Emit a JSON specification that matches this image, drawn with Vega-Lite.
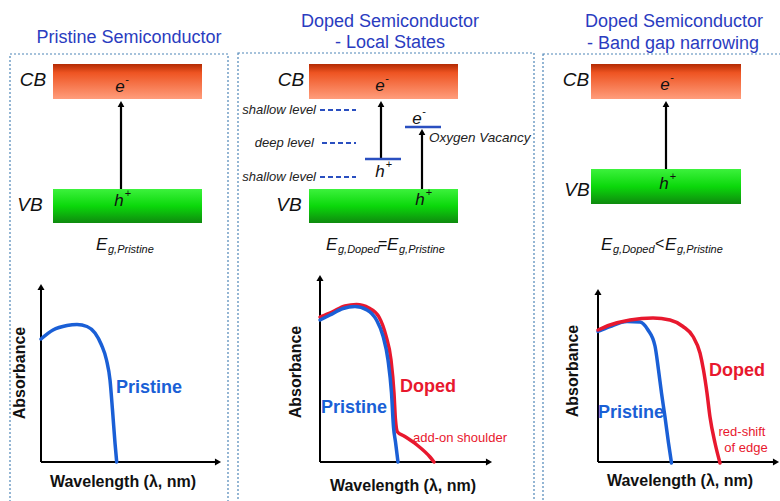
{
 "$schema": "https://vega.github.io/schema/vega-lite/v6.json",
 "width": 780, "height": 501, "autosize": "none", "padding": 0,
 "background": "white",
 "config": {"view": {"stroke": null}, "text": {"font": "Liberation Sans"}},
 "datasets": {
  "borders": [{"x":10,"y":54,"x2":228,"y2":520},{"x":238,"y":53,"x2":534,"y2":520},{"x":543,"y":54,"x2":820,"y2":520}],
  "cb": [{"x":53,"y":64,"x2":202,"y2":99},{"x":309,"y":64,"x2":458,"y2":99},{"x":591,"y":64,"x2":741,"y2":99}],
  "vb": [{"x":53,"y":189,"x2":202,"y2":223},{"x":309,"y":189,"x2":458,"y2":223},{"x":591,"y":169,"x2":741,"y2":204}],
  "arrows": [{"x":121,"y":189,"y2":104},{"x":381,"y":159,"y2":104},{"x":422,"y":189,"y2":132},{"x":666,"y":169,"y2":104}],
  "heads": [{"x":121,"y":104},{"x":381,"y":104},{"x":422,"y":132},{"x":666,"y":104}],
  "levels": [{"x":365,"x2":401,"y":159},{"x":405,"x2":441,"y":127}],
  "dashes": [{"x":320,"x2":356,"y":110},{"x":322,"x2":356,"y":143},{"x":320,"x2":356,"y":177}],
  "axes": [
   {"x":41,"x2":41,"y":462,"y2":287},{"x":41,"x2":218,"y":462,"y2":462},
   {"x":320,"x2":320,"y":462,"y2":278},{"x":320,"x2":489,"y":462,"y2":462},
   {"x":598,"x2":598,"y":462,"y2":292},{"x":598,"x2":776,"y":462,"y2":462}],
  "upHeads": [{"x":41,"y":287},{"x":320,"y":278},{"x":598,"y":292}],
  "rightHeads": [{"x":218,"y":462},{"x":489,"y":462},{"x":776,"y":462}],
  "curves": [
   {"g":"p1","s":"Pristine","i":0,"x":41,"y":339},{"g":"p1","s":"Pristine","i":1,"x":53,"y":330},{"g":"p1","s":"Pristine","i":2,"x":67,"y":325.5},{"g":"p1","s":"Pristine","i":3,"x":77,"y":324.5},{"g":"p1","s":"Pristine","i":4,"x":87,"y":326.5},{"g":"p1","s":"Pristine","i":5,"x":95,"y":333},{"g":"p1","s":"Pristine","i":6,"x":101.5,"y":345},{"g":"p1","s":"Pristine","i":7,"x":106.5,"y":360},{"g":"p1","s":"Pristine","i":8,"x":110,"y":380},{"g":"p1","s":"Pristine","i":9,"x":112.5,"y":410},{"g":"p1","s":"Pristine","i":10,"x":115,"y":443},{"g":"p1","s":"Pristine","i":11,"x":116.7,"y":462},
   {"g":"p2d","s":"Doped","i":0,"x":320,"y":317},{"g":"p2d","s":"Doped","i":1,"x":332,"y":312},{"g":"p2d","s":"Doped","i":2,"x":345,"y":306},{"g":"p2d","s":"Doped","i":3,"x":356.5,"y":304.5},{"g":"p2d","s":"Doped","i":4,"x":369,"y":308},{"g":"p2d","s":"Doped","i":5,"x":379,"y":317},{"g":"p2d","s":"Doped","i":6,"x":386,"y":336},{"g":"p2d","s":"Doped","i":7,"x":391,"y":360},{"g":"p2d","s":"Doped","i":8,"x":394,"y":393},{"g":"p2d","s":"Doped","i":9,"x":395.5,"y":420},{"g":"p2d","s":"Doped","i":10,"x":397.5,"y":432},{"g":"p2d","s":"Doped","i":11,"x":404,"y":436},{"g":"p2d","s":"Doped","i":12,"x":417,"y":445},{"g":"p2d","s":"Doped","i":13,"x":430,"y":457},{"g":"p2d","s":"Doped","i":14,"x":434,"y":462},
   {"g":"p2p","s":"Pristine","i":0,"x":320,"y":320},{"g":"p2p","s":"Pristine","i":1,"x":330,"y":315},{"g":"p2p","s":"Pristine","i":2,"x":343,"y":308.5},{"g":"p2p","s":"Pristine","i":3,"x":355,"y":306.5},{"g":"p2p","s":"Pristine","i":4,"x":367,"y":310},{"g":"p2p","s":"Pristine","i":5,"x":376.5,"y":320},{"g":"p2p","s":"Pristine","i":6,"x":383,"y":336},{"g":"p2p","s":"Pristine","i":7,"x":388,"y":360},{"g":"p2p","s":"Pristine","i":8,"x":391.5,"y":393},{"g":"p2p","s":"Pristine","i":9,"x":393.5,"y":427},{"g":"p2p","s":"Pristine","i":10,"x":395.5,"y":442},{"g":"p2p","s":"Pristine","i":11,"x":398,"y":462},
   {"g":"p3p","s":"Pristine","i":0,"x":598,"y":331.5},{"g":"p3p","s":"Pristine","i":1,"x":610,"y":326.5},{"g":"p3p","s":"Pristine","i":2,"x":627,"y":321.5},{"g":"p3p","s":"Pristine","i":3,"x":640,"y":322},{"g":"p3p","s":"Pristine","i":4,"x":648,"y":330},{"g":"p3p","s":"Pristine","i":5,"x":655,"y":346},{"g":"p3p","s":"Pristine","i":6,"x":658.5,"y":370},{"g":"p3p","s":"Pristine","i":7,"x":661.5,"y":393},{"g":"p3p","s":"Pristine","i":8,"x":665,"y":417},{"g":"p3p","s":"Pristine","i":9,"x":668.5,"y":443},{"g":"p3p","s":"Pristine","i":10,"x":671.5,"y":463},
   {"g":"p3d","s":"Doped","i":0,"x":598,"y":330},{"g":"p3d","s":"Doped","i":1,"x":610,"y":325},{"g":"p3d","s":"Doped","i":2,"x":630,"y":320},{"g":"p3d","s":"Doped","i":3,"x":653,"y":318},{"g":"p3d","s":"Doped","i":4,"x":670,"y":320},{"g":"p3d","s":"Doped","i":5,"x":683,"y":326.5},{"g":"p3d","s":"Doped","i":6,"x":693,"y":336.5},{"g":"p3d","s":"Doped","i":7,"x":700,"y":353},{"g":"p3d","s":"Doped","i":8,"x":703.5,"y":370},{"g":"p3d","s":"Doped","i":9,"x":707,"y":393},{"g":"p3d","s":"Doped","i":10,"x":710,"y":417},{"g":"p3d","s":"Doped","i":11,"x":715,"y":443},{"g":"p3d","s":"Doped","i":12,"x":720,"y":463}
  ],
  "titles": [{"t":"Pristine Semiconductor","x":129,"y":38},{"t":"Doped Semiconductor","x":390,"y":22},{"t":"- Local States","x":390,"y":43},{"t":"Doped Semiconductor","x":674,"y":22},{"t":"- Band gap narrowing","x":673,"y":44}],
  "bands": [{"t":"CB","x":33,"y":80},{"t":"VB","x":30,"y":205},{"t":"CB","x":291,"y":80},{"t":"VB","x":289,"y":205},{"t":"CB","x":576,"y":80},{"t":"VB","x":577,"y":190}],
  "carrierBase": [{"t":"e","x":120,"y":87},{"t":"e","x":380,"y":86},{"t":"e","x":417,"y":119},{"t":"e","x":665,"y":85},{"t":"h","x":119,"y":201},{"t":"h","x":380,"y":172},{"t":"h","x":420,"y":200},{"t":"h","x":664,"y":184}],
  "carrierSup": [{"t":"-","x":127,"y":80},{"t":"-","x":387,"y":79},{"t":"-","x":424,"y":112},{"t":"-","x":672,"y":78},{"t":"+","x":128,"y":194},{"t":"+","x":389,"y":165},{"t":"+","x":429,"y":193},{"t":"+","x":673,"y":177}],
  "levelText": [{"t":"shallow level","x":316,"y":110},{"t":"deep level","x":314,"y":143},{"t":"shallow level","x":316,"y":177}],
  "notes": [{"t":"Oxygen Vacancy","x":429,"y":138}],
  "bigE": [{"t":"E","x":96,"y":250},{"t":"E","x":326,"y":250},{"t":"E","x":387,"y":250},{"t":"E","x":601,"y":250},{"t":"E","x":665,"y":250}],
  "subs": [{"t":"g,Pristine","x":108,"y":253},{"t":"g,Doped","x":338,"y":253},{"t":"g,Pristine","x":399,"y":253},{"t":"g,Doped","x":613,"y":253},{"t":"g,Pristine","x":677,"y":253}],
  "ops": [{"t":"=","x":378,"y":249},{"t":"<","x":655,"y":249}],
  "xlabels": [{"t":"Wavelength (λ, nm)","x":123,"y":482},{"t":"Wavelength (λ, nm)","x":403,"y":486},{"t":"Wavelength (λ, nm)","x":680,"y":481}],
  "ylabels": [{"t":"Absorbance","x":20,"y":373},{"t":"Absorbance","x":296,"y":372},{"t":"Absorbance","x":573,"y":371}],
  "pLabels": [{"t":"Pristine","x":149,"y":388},{"t":"Pristine","x":354,"y":408},{"t":"Pristine","x":631,"y":413}],
  "dLabels": [{"t":"Doped","x":428,"y":387},{"t":"Doped","x":737,"y":371}],
  "redNotes": [{"t":"add-on shoulder","x":460,"y":438},{"t":"red-shift","x":742,"y":432},{"t":"of edge","x":746,"y":448}]
 },
 "encoding": {
  "x": {"field":"x","type":"quantitative","scale":{"domain":[0,780],"nice":false,"zero":false},"axis":null},
  "y": {"field":"y","type":"quantitative","scale":{"domain":[0,501],"nice":false,"zero":false,"reverse":true},"axis":null}
 },
 "layer": [
  {"data":{"name":"borders"},"mark":{"type":"rect","filled":false,"color":"#4f86b8","strokeWidth":1.2,"strokeDash":[2,2]},"encoding":{"x2":{"field":"x2"},"y2":{"field":"y2"}}},
  {"data":{"name":"cb"},"mark":{"type":"rect","fill":{"gradient":"linear","x1":0,"y1":0,"x2":0,"y2":1,"stops":[{"offset":0,"color":"#b32a03"},{"offset":0.25,"color":"#ee5422"},{"offset":1,"color":"#ff9d7c"}]}},"encoding":{"x2":{"field":"x2"},"y2":{"field":"y2"}}},
  {"data":{"name":"vb"},"mark":{"type":"rect","fill":{"gradient":"linear","x1":0,"y1":0,"x2":0,"y2":1,"stops":[{"offset":0,"color":"#3cf23c"},{"offset":0.5,"color":"#0bd80b"},{"offset":1,"color":"#0e8a0e"}]}},"encoding":{"x2":{"field":"x2"},"y2":{"field":"y2"}}},
  {"data":{"name":"arrows"},"mark":{"type":"rule","color":"black","strokeWidth":2.2},"encoding":{"y2":{"field":"y2"}}},
  {"data":{"name":"heads"},"mark":{"type":"point","shape":"triangle-up","filled":true,"color":"black","size":45,"opacity":1}},
  {"data":{"name":"levels"},"mark":{"type":"rule","color":"#2a4fc0","strokeWidth":2.5},"encoding":{"x2":{"field":"x2"}}},
  {"data":{"name":"dashes"},"mark":{"type":"rule","color":"#2a4fc0","strokeWidth":2,"strokeDash":[5,3]},"encoding":{"x2":{"field":"x2"}}},
  {"data":{"name":"axes"},"mark":{"type":"rule","color":"black","strokeWidth":2},"encoding":{"x2":{"field":"x2"},"y2":{"field":"y2"}}},
  {"data":{"name":"upHeads"},"mark":{"type":"point","shape":"triangle-up","filled":true,"color":"black","size":50,"opacity":1}},
  {"data":{"name":"rightHeads"},"mark":{"type":"point","shape":"triangle-right","filled":true,"color":"black","size":50,"opacity":1}},
  {"data":{"name":"curves"},"transform":[{"filter":"datum.g == 'p2d'"}],"mark":{"type":"line","color":"#e8182e","strokeWidth":3.5,"interpolate":"monotone","strokeCap":"round"},"encoding":{"order":{"field":"i","type":"quantitative"}}},
  {"data":{"name":"curves"},"transform":[{"filter":"datum.s == 'Pristine'"}],"mark":{"type":"line","color":"#1a5fd6","strokeWidth":3.5,"interpolate":"monotone","strokeCap":"round"},"encoding":{"detail":{"field":"g","type":"nominal"},"order":{"field":"i","type":"quantitative"}}},
  {"data":{"name":"curves"},"transform":[{"filter":"datum.g == 'p3d'"}],"mark":{"type":"line","color":"#e8182e","strokeWidth":3.5,"interpolate":"monotone","strokeCap":"round"},"encoding":{"order":{"field":"i","type":"quantitative"}}},
  {"data":{"name":"titles"},"mark":{"type":"text","fontSize":18,"color":"#2a3cc0","baseline":"middle","align":"center"},"encoding":{"text":{"field":"t"}}},
  {"data":{"name":"bands"},"mark":{"type":"text","fontSize":19,"fontStyle":"italic","color":"#111","baseline":"middle","align":"center"},"encoding":{"text":{"field":"t"}}},
  {"data":{"name":"carrierBase"},"mark":{"type":"text","fontSize":17,"fontStyle":"italic","color":"#111","baseline":"middle","align":"center"},"encoding":{"text":{"field":"t"}}},
  {"data":{"name":"carrierSup"},"mark":{"type":"text","fontSize":11,"color":"#111","baseline":"middle","align":"center"},"encoding":{"text":{"field":"t"}}},
  {"data":{"name":"levelText"},"mark":{"type":"text","fontSize":13,"fontStyle":"italic","color":"#222","baseline":"middle","align":"right"},"encoding":{"text":{"field":"t"}}},
  {"data":{"name":"notes"},"mark":{"type":"text","fontSize":13.5,"fontStyle":"italic","color":"#222","baseline":"middle","align":"left"},"encoding":{"text":{"field":"t"}}},
  {"data":{"name":"bigE"},"mark":{"type":"text","fontSize":17,"fontStyle":"italic","color":"#111","baseline":"alphabetic","align":"left"},"encoding":{"text":{"field":"t"}}},
  {"data":{"name":"subs"},"mark":{"type":"text","fontSize":11,"fontStyle":"italic","color":"#111","baseline":"alphabetic","align":"left"},"encoding":{"text":{"field":"t"}}},
  {"data":{"name":"ops"},"mark":{"type":"text","fontSize":16,"color":"#111","baseline":"alphabetic","align":"left"},"encoding":{"text":{"field":"t"}}},
  {"data":{"name":"xlabels"},"mark":{"type":"text","fontSize":16,"fontWeight":"bold","color":"#111","baseline":"middle","align":"center"},"encoding":{"text":{"field":"t"}}},
  {"data":{"name":"ylabels"},"mark":{"type":"text","fontSize":16,"fontWeight":"bold","color":"#111","baseline":"middle","align":"center","angle":270},"encoding":{"text":{"field":"t"}}},
  {"data":{"name":"pLabels"},"mark":{"type":"text","fontSize":18,"fontWeight":"bold","color":"#1a5fd6","baseline":"middle","align":"center"},"encoding":{"text":{"field":"t"}}},
  {"data":{"name":"dLabels"},"mark":{"type":"text","fontSize":18,"fontWeight":"bold","color":"#e8182e","baseline":"middle","align":"center"},"encoding":{"text":{"field":"t"}}},
  {"data":{"name":"redNotes"},"mark":{"type":"text","fontSize":13,"color":"#e8182e","baseline":"middle","align":"center"},"encoding":{"text":{"field":"t"}}}
 ]
}
